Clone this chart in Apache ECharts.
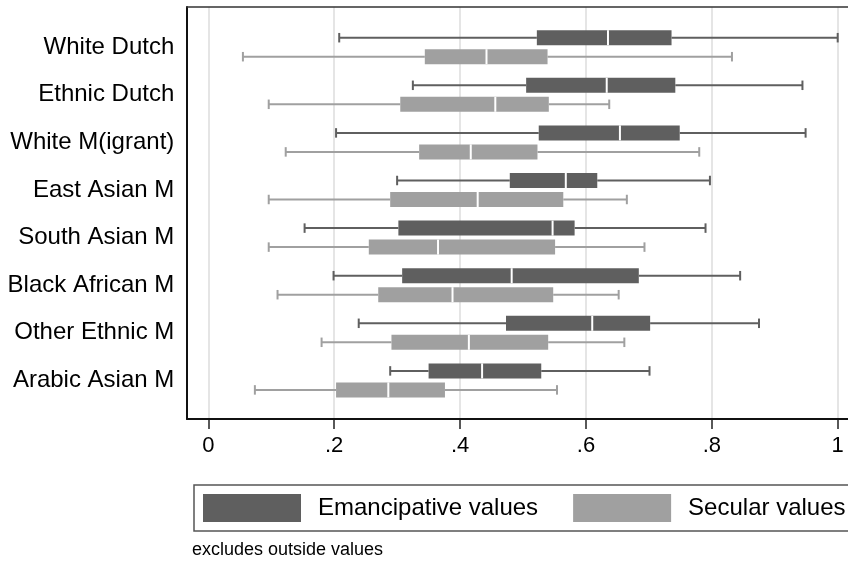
<!DOCTYPE html>
<html><head><meta charset="utf-8">
<script src="https://cdn.jsdelivr.net/npm/echarts@6/dist/echarts.min.js"></script>
<style>html,body{margin:0;padding:0;background:#fff}#c{width:848px;height:562px}</style>
</head><body><div id="c"></div>
<script>
var categories = ['White Dutch','Ethnic Dutch','White M(igrant)','East Asian M','South Asian M','Black African M','Other Ethnic M','Arabic Asian M'];
var xTicks = [0, 0.2, 0.4, 0.6, 0.8, 1];
// [lower whisker, q1, median, q3, upper whisker]
var emancipative = [
  [0.208, 0.522, 0.635, 0.736, 1.000],
  [0.325, 0.505, 0.633, 0.742, 0.944],
  [0.203, 0.525, 0.654, 0.749, 0.949],
  [0.300, 0.479, 0.568, 0.618, 0.797],
  [0.153, 0.302, 0.547, 0.582, 0.790],
  [0.199, 0.308, 0.482, 0.684, 0.845],
  [0.239, 0.473, 0.610, 0.702, 0.875],
  [0.289, 0.350, 0.435, 0.529, 0.701]
];
var secular = [
  [0.055, 0.344, 0.442, 0.539, 0.832],
  [0.096, 0.305, 0.456, 0.541, 0.637],
  [0.123, 0.335, 0.417, 0.523, 0.780],
  [0.096, 0.289, 0.428, 0.564, 0.665],
  [0.096, 0.255, 0.365, 0.551, 0.693],
  [0.110, 0.270, 0.388, 0.548, 0.652],
  [0.180, 0.291, 0.414, 0.540, 0.661],
  [0.074, 0.203, 0.286, 0.376, 0.554]
];
var seriesNames = ['Emancipative values', 'Secular values'];
var noteText = 'excludes outside values';

var FONT = "'Liberation Sans', Arial, Helvetica, sans-serif";
var DARK = '#5f5f5f', LIGHT = '#a0a0a0';

function makeRender(color, offset) {
  return function (params, api) {
    var ci = api.value(0);
    var lw = api.coord([api.value(1), ci]);
    var q1 = api.coord([api.value(2), ci]);
    var md = api.coord([api.value(3), ci]);
    var q3 = api.coord([api.value(4), ci]);
    var uw = api.coord([api.value(5), ci]);
    var y = lw[1] + offset;
    var bh = 15, ch = 9.5;
    var ls = {stroke: color, lineWidth: 2};
    return {
      type: 'group',
      children: [
        {type: 'line', shape: {x1: lw[0], y1: y, x2: q1[0], y2: y}, style: ls},
        {type: 'line', shape: {x1: q3[0], y1: y, x2: uw[0], y2: y}, style: ls},
        {type: 'line', shape: {x1: lw[0], y1: y - ch/2, x2: lw[0], y2: y + ch/2}, style: ls},
        {type: 'line', shape: {x1: uw[0], y1: y - ch/2, x2: uw[0], y2: y + ch/2}, style: ls},
        {type: 'rect', shape: {x: q1[0], y: y - bh/2, width: q3[0] - q1[0], height: bh}, style: {fill: color}},
        {type: 'line', shape: {x1: md[0], y1: y - bh/2, x2: md[0], y2: y + bh/2}, style: {stroke: '#ffffff', lineWidth: 2}}
      ]
    };
  };
}
function toData(arr) {
  return arr.map(function (r, i) { return [i].concat(r); });
}
var chart = echarts.init(document.getElementById('c'), null, {renderer: 'canvas'});
var X0 = 208.3, XW = 629.4, TOP = 7, H = 412;
var CAT_C0 = 47.2, CAT_STEP = 47.6;
var frameLine = {show: true, lineStyle: {color: '#111111', width: 2}};
chart.setOption({
  animation: false,
  backgroundColor: '#ffffff',
  textStyle: {fontFamily: FONT},
  grid: [
    {left: 187, top: TOP, width: 720, height: H},
    {left: X0, top: TOP, width: XW, height: H},
    {left: X0, top: CAT_C0 - CAT_STEP/2, width: XW, height: CAT_STEP * categories.length}
  ],
  xAxis: [
    {gridIndex: 0, type: 'value', min: 0, max: 1, position: 'bottom', axisLine: frameLine,
      axisTick: {show: false}, axisLabel: {show: false}, splitLine: {show: false}, z: 5},
    {gridIndex: 0, type: 'value', min: 0, max: 1, position: 'top', axisLine: {show: true, lineStyle: {color: '#333333', width: 1.5}},
      axisTick: {show: false}, axisLabel: {show: false}, splitLine: {show: false}, z: 5},
    {gridIndex: 1, type: 'value', min: 0, max: 1, interval: 0.2,
      axisLine: {show: false},
      axisTick: {show: true, length: 10, lineStyle: {color: '#222', width: 1.5}},
      axisLabel: {fontSize: 22, color: '#000', fontFamily: FONT, margin: 16,
        formatter: function (v) {
          var i = xTicks.findIndex(function (t) { return Math.abs(t - v) < 1e-9; });
          if (i < 0) return '';
          var t = xTicks[i];
          return (t === 0 || t === 1) ? String(t) : String(t).replace(/^0/, '');
        }},
      splitLine: {show: true, lineStyle: {color: '#dddddd', width: 1.5}}
    },
    {gridIndex: 2, type: 'value', min: 0, max: 1, show: false}
  ],
  yAxis: [
    {gridIndex: 0, type: 'value', min: 0, max: 1, position: 'left', axisLine: frameLine,
      axisTick: {show: false}, axisLabel: {show: false}, splitLine: {show: false}, z: 5},
    {gridIndex: 1, type: 'value', show: false, min: 0, max: 1},
    {gridIndex: 2, type: 'category', data: categories, inverse: true,
      axisLine: {show: false}, axisTick: {show: false}, splitLine: {show: false},
      axisLabel: {fontSize: 24, color: '#000', fontFamily: FONT, margin: 34}}
  ],
  legend: {
    left: 194, top: 485, width: 1200, orient: 'horizontal',
    padding: [9, 20, 9, 9],
    itemWidth: 98, itemHeight: 28, itemGap: 35,
    borderColor: '#555', borderWidth: 1.5,
    icon: 'rect',
    selectedMode: false,
    textStyle: {fontSize: 24, color: '#000', fontFamily: FONT, padding: [0, 0, 0, 12]},
    data: seriesNames
  },
  title: {
    text: noteText, left: 192, top: 541,
    textStyle: {fontSize: 18, fontWeight: 'normal', color: '#000', fontFamily: FONT},
    padding: 0
  },
  series: [
    {name: seriesNames[0], type: 'custom', xAxisIndex: 3, yAxisIndex: 2, itemStyle: {color: DARK},
      renderItem: makeRender(DARK, -9.5), data: toData(emancipative), z: 3},
    {name: seriesNames[1], type: 'custom', xAxisIndex: 3, yAxisIndex: 2, itemStyle: {color: LIGHT},
      renderItem: makeRender(LIGHT, 9.5), data: toData(secular), z: 3}
  ]
});
</script>
</body></html>
